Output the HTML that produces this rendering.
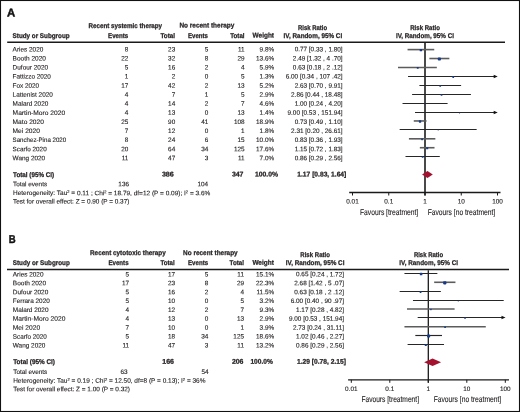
<!DOCTYPE html>
<html><head><meta charset="utf-8"><style>
html,body{margin:0;padding:0;background:#fff;width:520px;height:412px;overflow:hidden}
svg{display:block;will-change:transform}
text{font-family:"Liberation Sans",sans-serif;text-rendering:geometricPrecision}
</style></head><body>
<svg width="520" height="412" viewBox="0 0 520 412">
<rect x="0" y="0" width="520" height="412" fill="#fff"/>
<text x="7.1" y="16.4" transform="rotate(0.03 7.1 16.4)" font-size="11.4" font-weight="bold" stroke="#111" stroke-width="0.45" fill="#111" textLength="8.2" lengthAdjust="spacingAndGlyphs">A</text>
<text x="88.50" y="27.50" transform="rotate(0.03 88.50 27.50)" font-size="6.9" font-weight="bold" stroke="#231f20" stroke-width="0.25" textLength="73.60" lengthAdjust="spacingAndGlyphs" fill="#231f20">Recent systemic therapy</text>
<text x="179.40" y="27.50" transform="rotate(0.03 179.40 27.50)" font-size="6.9" font-weight="bold" stroke="#231f20" stroke-width="0.25" textLength="54.90" lengthAdjust="spacingAndGlyphs" fill="#231f20">No recent therapy</text>
<text x="298.00" y="29.70" transform="rotate(0.03 298.00 29.70)" font-size="6.9" font-weight="bold" stroke="#231f20" stroke-width="0.25" textLength="29.10" lengthAdjust="spacingAndGlyphs" fill="#231f20">Risk Ratio</text>
<text x="410.20" y="29.70" transform="rotate(0.03 410.20 29.70)" font-size="6.9" font-weight="bold" stroke="#231f20" stroke-width="0.25" textLength="29.70" lengthAdjust="spacingAndGlyphs" fill="#231f20">Risk Ratio</text>
<text x="12.60" y="37.60" transform="rotate(0.03 12.60 37.60)" font-size="6.9" font-weight="bold" stroke="#231f20" stroke-width="0.25" textLength="57.00" lengthAdjust="spacingAndGlyphs" fill="#231f20">Study or Subgroup</text>
<text x="108.00" y="37.60" transform="rotate(0.03 108.00 37.60)" font-size="6.9" font-weight="bold" stroke="#231f20" stroke-width="0.25" textLength="20.30" lengthAdjust="spacingAndGlyphs" fill="#231f20">Events</text>
<text x="160.50" y="37.60" transform="rotate(0.03 160.50 37.60)" font-size="6.9" font-weight="bold" stroke="#231f20" stroke-width="0.25" textLength="14.50" lengthAdjust="spacingAndGlyphs" fill="#231f20">Total</text>
<text x="188.00" y="37.60" transform="rotate(0.03 188.00 37.60)" font-size="6.9" font-weight="bold" stroke="#231f20" stroke-width="0.25" textLength="20.00" lengthAdjust="spacingAndGlyphs" fill="#231f20">Events</text>
<text x="230.20" y="37.60" transform="rotate(0.03 230.20 37.60)" font-size="6.9" font-weight="bold" stroke="#231f20" stroke-width="0.25" textLength="14.40" lengthAdjust="spacingAndGlyphs" fill="#231f20">Total</text>
<text x="252.60" y="37.60" transform="rotate(0.03 252.60 37.60)" font-size="6.9" font-weight="bold" stroke="#231f20" stroke-width="0.25" textLength="21.40" lengthAdjust="spacingAndGlyphs" fill="#231f20">Weight</text>
<text x="283.60" y="37.60" transform="rotate(0.03 283.60 37.60)" font-size="6.9" font-weight="bold" stroke="#231f20" stroke-width="0.25" textLength="58.60" lengthAdjust="spacingAndGlyphs" fill="#231f20">IV, Random, 95% CI</text>
<text x="395.90" y="37.60" transform="rotate(0.03 395.90 37.60)" font-size="6.9" font-weight="bold" stroke="#231f20" stroke-width="0.25" textLength="58.10" lengthAdjust="spacingAndGlyphs" fill="#231f20">IV, Random, 95% CI</text>
<line x1="7.20" y1="42.30" x2="505.00" y2="42.30" stroke="#1a1a1a" stroke-width="1.4"/>
<text x="12.60" y="51.40" transform="rotate(0.03 12.60 51.40)" font-size="6.4" stroke="#231f20" stroke-width="0.12" textLength="30.70" lengthAdjust="spacingAndGlyphs" fill="#231f20">Aries 2020</text>
<text x="128.40" y="51.40" transform="rotate(0.03 128.40 51.40)" font-size="6.4" text-anchor="end" stroke="#231f20" stroke-width="0.12" fill="#231f20">8</text>
<text x="175.20" y="51.40" transform="rotate(0.03 175.20 51.40)" font-size="6.4" text-anchor="end" stroke="#231f20" stroke-width="0.12" fill="#231f20">23</text>
<text x="208.30" y="51.40" transform="rotate(0.03 208.30 51.40)" font-size="6.4" text-anchor="end" stroke="#231f20" stroke-width="0.12" fill="#231f20">5</text>
<text x="244.60" y="51.40" transform="rotate(0.03 244.60 51.40)" font-size="6.4" text-anchor="end" stroke="#231f20" stroke-width="0.12" fill="#231f20">11</text>
<text x="274.20" y="51.40" transform="rotate(0.03 274.20 51.40)" font-size="6.4" text-anchor="end" stroke="#231f20" stroke-width="0.12" fill="#231f20">9.8%</text>
<text x="342.60" y="51.40" transform="rotate(0.03 342.60 51.40)" font-size="6.4" text-anchor="end" stroke="#231f20" stroke-width="0.12" fill="#231f20">0.77 [0.33 , 1.80]</text>
<text x="12.60" y="60.47" transform="rotate(0.03 12.60 60.47)" font-size="6.4" stroke="#231f20" stroke-width="0.12" textLength="33.30" lengthAdjust="spacingAndGlyphs" fill="#231f20">Booth 2020</text>
<text x="128.40" y="60.47" transform="rotate(0.03 128.40 60.47)" font-size="6.4" text-anchor="end" stroke="#231f20" stroke-width="0.12" fill="#231f20">22</text>
<text x="175.20" y="60.47" transform="rotate(0.03 175.20 60.47)" font-size="6.4" text-anchor="end" stroke="#231f20" stroke-width="0.12" fill="#231f20">32</text>
<text x="208.30" y="60.47" transform="rotate(0.03 208.30 60.47)" font-size="6.4" text-anchor="end" stroke="#231f20" stroke-width="0.12" fill="#231f20">8</text>
<text x="244.60" y="60.47" transform="rotate(0.03 244.60 60.47)" font-size="6.4" text-anchor="end" stroke="#231f20" stroke-width="0.12" fill="#231f20">29</text>
<text x="274.20" y="60.47" transform="rotate(0.03 274.20 60.47)" font-size="6.4" text-anchor="end" stroke="#231f20" stroke-width="0.12" fill="#231f20">13.6%</text>
<text x="342.60" y="60.47" transform="rotate(0.03 342.60 60.47)" font-size="6.4" text-anchor="end" stroke="#231f20" stroke-width="0.12" fill="#231f20">2.49 [1.32 , 4 .70]</text>
<text x="12.60" y="69.54" transform="rotate(0.03 12.60 69.54)" font-size="6.4" stroke="#231f20" stroke-width="0.12" textLength="35.50" lengthAdjust="spacingAndGlyphs" fill="#231f20">Dufour 2020</text>
<text x="128.40" y="69.54" transform="rotate(0.03 128.40 69.54)" font-size="6.4" text-anchor="end" stroke="#231f20" stroke-width="0.12" fill="#231f20">5</text>
<text x="175.20" y="69.54" transform="rotate(0.03 175.20 69.54)" font-size="6.4" text-anchor="end" stroke="#231f20" stroke-width="0.12" fill="#231f20">16</text>
<text x="208.30" y="69.54" transform="rotate(0.03 208.30 69.54)" font-size="6.4" text-anchor="end" stroke="#231f20" stroke-width="0.12" fill="#231f20">2</text>
<text x="244.60" y="69.54" transform="rotate(0.03 244.60 69.54)" font-size="6.4" text-anchor="end" stroke="#231f20" stroke-width="0.12" fill="#231f20">4</text>
<text x="274.20" y="69.54" transform="rotate(0.03 274.20 69.54)" font-size="6.4" text-anchor="end" stroke="#231f20" stroke-width="0.12" fill="#231f20">5.9%</text>
<text x="342.60" y="69.54" transform="rotate(0.03 342.60 69.54)" font-size="6.4" text-anchor="end" stroke="#231f20" stroke-width="0.12" fill="#231f20">0.63 [0.18 , 2 .12]</text>
<text x="12.60" y="78.61" transform="rotate(0.03 12.60 78.61)" font-size="6.4" stroke="#231f20" stroke-width="0.12" textLength="38.30" lengthAdjust="spacingAndGlyphs" fill="#231f20">Fattizzo 2020</text>
<text x="128.40" y="78.61" transform="rotate(0.03 128.40 78.61)" font-size="6.4" text-anchor="end" stroke="#231f20" stroke-width="0.12" fill="#231f20">1</text>
<text x="175.20" y="78.61" transform="rotate(0.03 175.20 78.61)" font-size="6.4" text-anchor="end" stroke="#231f20" stroke-width="0.12" fill="#231f20">2</text>
<text x="208.30" y="78.61" transform="rotate(0.03 208.30 78.61)" font-size="6.4" text-anchor="end" stroke="#231f20" stroke-width="0.12" fill="#231f20">0</text>
<text x="244.60" y="78.61" transform="rotate(0.03 244.60 78.61)" font-size="6.4" text-anchor="end" stroke="#231f20" stroke-width="0.12" fill="#231f20">5</text>
<text x="274.20" y="78.61" transform="rotate(0.03 274.20 78.61)" font-size="6.4" text-anchor="end" stroke="#231f20" stroke-width="0.12" fill="#231f20">1.3%</text>
<text x="342.60" y="78.61" transform="rotate(0.03 342.60 78.61)" font-size="6.4" text-anchor="end" stroke="#231f20" stroke-width="0.12" fill="#231f20">6.00 [0.34 , 107 .42]</text>
<text x="12.60" y="87.68" transform="rotate(0.03 12.60 87.68)" font-size="6.4" stroke="#231f20" stroke-width="0.12" textLength="26.55" lengthAdjust="spacingAndGlyphs" fill="#231f20">Fox 2020</text>
<text x="128.40" y="87.68" transform="rotate(0.03 128.40 87.68)" font-size="6.4" text-anchor="end" stroke="#231f20" stroke-width="0.12" fill="#231f20">17</text>
<text x="175.20" y="87.68" transform="rotate(0.03 175.20 87.68)" font-size="6.4" text-anchor="end" stroke="#231f20" stroke-width="0.12" fill="#231f20">42</text>
<text x="208.30" y="87.68" transform="rotate(0.03 208.30 87.68)" font-size="6.4" text-anchor="end" stroke="#231f20" stroke-width="0.12" fill="#231f20">2</text>
<text x="244.60" y="87.68" transform="rotate(0.03 244.60 87.68)" font-size="6.4" text-anchor="end" stroke="#231f20" stroke-width="0.12" fill="#231f20">13</text>
<text x="274.20" y="87.68" transform="rotate(0.03 274.20 87.68)" font-size="6.4" text-anchor="end" stroke="#231f20" stroke-width="0.12" fill="#231f20">5.2%</text>
<text x="342.60" y="87.68" transform="rotate(0.03 342.60 87.68)" font-size="6.4" text-anchor="end" stroke="#231f20" stroke-width="0.12" fill="#231f20">2.63 [0.70 , 9.91]</text>
<text x="12.60" y="96.75" transform="rotate(0.03 12.60 96.75)" font-size="6.4" stroke="#231f20" stroke-width="0.12" textLength="40.30" lengthAdjust="spacingAndGlyphs" fill="#231f20">Lattenist 2020</text>
<text x="128.40" y="96.75" transform="rotate(0.03 128.40 96.75)" font-size="6.4" text-anchor="end" stroke="#231f20" stroke-width="0.12" fill="#231f20">4</text>
<text x="175.20" y="96.75" transform="rotate(0.03 175.20 96.75)" font-size="6.4" text-anchor="end" stroke="#231f20" stroke-width="0.12" fill="#231f20">7</text>
<text x="208.30" y="96.75" transform="rotate(0.03 208.30 96.75)" font-size="6.4" text-anchor="end" stroke="#231f20" stroke-width="0.12" fill="#231f20">1</text>
<text x="244.60" y="96.75" transform="rotate(0.03 244.60 96.75)" font-size="6.4" text-anchor="end" stroke="#231f20" stroke-width="0.12" fill="#231f20">5</text>
<text x="274.20" y="96.75" transform="rotate(0.03 274.20 96.75)" font-size="6.4" text-anchor="end" stroke="#231f20" stroke-width="0.12" fill="#231f20">2.9%</text>
<text x="342.60" y="96.75" transform="rotate(0.03 342.60 96.75)" font-size="6.4" text-anchor="end" stroke="#231f20" stroke-width="0.12" fill="#231f20">2.86 [0.44 , 18.48]</text>
<text x="12.60" y="105.82" transform="rotate(0.03 12.60 105.82)" font-size="6.4" stroke="#231f20" stroke-width="0.12" textLength="35.70" lengthAdjust="spacingAndGlyphs" fill="#231f20">Malard 2020</text>
<text x="128.40" y="105.82" transform="rotate(0.03 128.40 105.82)" font-size="6.4" text-anchor="end" stroke="#231f20" stroke-width="0.12" fill="#231f20">4</text>
<text x="175.20" y="105.82" transform="rotate(0.03 175.20 105.82)" font-size="6.4" text-anchor="end" stroke="#231f20" stroke-width="0.12" fill="#231f20">14</text>
<text x="208.30" y="105.82" transform="rotate(0.03 208.30 105.82)" font-size="6.4" text-anchor="end" stroke="#231f20" stroke-width="0.12" fill="#231f20">2</text>
<text x="244.60" y="105.82" transform="rotate(0.03 244.60 105.82)" font-size="6.4" text-anchor="end" stroke="#231f20" stroke-width="0.12" fill="#231f20">7</text>
<text x="274.20" y="105.82" transform="rotate(0.03 274.20 105.82)" font-size="6.4" text-anchor="end" stroke="#231f20" stroke-width="0.12" fill="#231f20">4.6%</text>
<text x="342.60" y="105.82" transform="rotate(0.03 342.60 105.82)" font-size="6.4" text-anchor="end" stroke="#231f20" stroke-width="0.12" fill="#231f20">1.00 [0.24 , 4.20]</text>
<text x="12.60" y="114.89" transform="rotate(0.03 12.60 114.89)" font-size="6.4" stroke="#231f20" stroke-width="0.12" textLength="52.55" lengthAdjust="spacingAndGlyphs" fill="#231f20">Martin-Moro 2020</text>
<text x="128.40" y="114.89" transform="rotate(0.03 128.40 114.89)" font-size="6.4" text-anchor="end" stroke="#231f20" stroke-width="0.12" fill="#231f20">4</text>
<text x="175.20" y="114.89" transform="rotate(0.03 175.20 114.89)" font-size="6.4" text-anchor="end" stroke="#231f20" stroke-width="0.12" fill="#231f20">13</text>
<text x="208.30" y="114.89" transform="rotate(0.03 208.30 114.89)" font-size="6.4" text-anchor="end" stroke="#231f20" stroke-width="0.12" fill="#231f20">0</text>
<text x="244.60" y="114.89" transform="rotate(0.03 244.60 114.89)" font-size="6.4" text-anchor="end" stroke="#231f20" stroke-width="0.12" fill="#231f20">13</text>
<text x="274.20" y="114.89" transform="rotate(0.03 274.20 114.89)" font-size="6.4" text-anchor="end" stroke="#231f20" stroke-width="0.12" fill="#231f20">1.4%</text>
<text x="342.60" y="114.89" transform="rotate(0.03 342.60 114.89)" font-size="6.4" text-anchor="end" stroke="#231f20" stroke-width="0.12" fill="#231f20">9.00 [0.53 , 151.94]</text>
<text x="12.60" y="123.96" transform="rotate(0.03 12.60 123.96)" font-size="6.4" stroke="#231f20" stroke-width="0.12" textLength="31.30" lengthAdjust="spacingAndGlyphs" fill="#231f20">Mato 2020</text>
<text x="128.40" y="123.96" transform="rotate(0.03 128.40 123.96)" font-size="6.4" text-anchor="end" stroke="#231f20" stroke-width="0.12" fill="#231f20">25</text>
<text x="175.20" y="123.96" transform="rotate(0.03 175.20 123.96)" font-size="6.4" text-anchor="end" stroke="#231f20" stroke-width="0.12" fill="#231f20">90</text>
<text x="208.30" y="123.96" transform="rotate(0.03 208.30 123.96)" font-size="6.4" text-anchor="end" stroke="#231f20" stroke-width="0.12" fill="#231f20">41</text>
<text x="244.60" y="123.96" transform="rotate(0.03 244.60 123.96)" font-size="6.4" text-anchor="end" stroke="#231f20" stroke-width="0.12" fill="#231f20">108</text>
<text x="274.20" y="123.96" transform="rotate(0.03 274.20 123.96)" font-size="6.4" text-anchor="end" stroke="#231f20" stroke-width="0.12" fill="#231f20">18.9%</text>
<text x="342.60" y="123.96" transform="rotate(0.03 342.60 123.96)" font-size="6.4" text-anchor="end" stroke="#231f20" stroke-width="0.12" fill="#231f20">0.73 [0.49 , 1.10]</text>
<text x="12.60" y="133.03" transform="rotate(0.03 12.60 133.03)" font-size="6.4" stroke="#231f20" stroke-width="0.12" textLength="27.30" lengthAdjust="spacingAndGlyphs" fill="#231f20">Mei 2020</text>
<text x="128.40" y="133.03" transform="rotate(0.03 128.40 133.03)" font-size="6.4" text-anchor="end" stroke="#231f20" stroke-width="0.12" fill="#231f20">7</text>
<text x="175.20" y="133.03" transform="rotate(0.03 175.20 133.03)" font-size="6.4" text-anchor="end" stroke="#231f20" stroke-width="0.12" fill="#231f20">12</text>
<text x="208.30" y="133.03" transform="rotate(0.03 208.30 133.03)" font-size="6.4" text-anchor="end" stroke="#231f20" stroke-width="0.12" fill="#231f20">0</text>
<text x="244.60" y="133.03" transform="rotate(0.03 244.60 133.03)" font-size="6.4" text-anchor="end" stroke="#231f20" stroke-width="0.12" fill="#231f20">1</text>
<text x="274.20" y="133.03" transform="rotate(0.03 274.20 133.03)" font-size="6.4" text-anchor="end" stroke="#231f20" stroke-width="0.12" fill="#231f20">1.8%</text>
<text x="342.60" y="133.03" transform="rotate(0.03 342.60 133.03)" font-size="6.4" text-anchor="end" stroke="#231f20" stroke-width="0.12" fill="#231f20">2.31 [0.20 , 26.61]</text>
<text x="12.60" y="142.10" transform="rotate(0.03 12.60 142.10)" font-size="6.4" stroke="#231f20" stroke-width="0.12" textLength="53.55" lengthAdjust="spacingAndGlyphs" fill="#231f20">Sanchez-Pina 2020</text>
<text x="128.40" y="142.10" transform="rotate(0.03 128.40 142.10)" font-size="6.4" text-anchor="end" stroke="#231f20" stroke-width="0.12" fill="#231f20">8</text>
<text x="175.20" y="142.10" transform="rotate(0.03 175.20 142.10)" font-size="6.4" text-anchor="end" stroke="#231f20" stroke-width="0.12" fill="#231f20">24</text>
<text x="208.30" y="142.10" transform="rotate(0.03 208.30 142.10)" font-size="6.4" text-anchor="end" stroke="#231f20" stroke-width="0.12" fill="#231f20">6</text>
<text x="244.60" y="142.10" transform="rotate(0.03 244.60 142.10)" font-size="6.4" text-anchor="end" stroke="#231f20" stroke-width="0.12" fill="#231f20">15</text>
<text x="274.20" y="142.10" transform="rotate(0.03 274.20 142.10)" font-size="6.4" text-anchor="end" stroke="#231f20" stroke-width="0.12" fill="#231f20">10.0%</text>
<text x="342.60" y="142.10" transform="rotate(0.03 342.60 142.10)" font-size="6.4" text-anchor="end" stroke="#231f20" stroke-width="0.12" fill="#231f20">0.83 [0.36 , 1.93]</text>
<text x="12.60" y="151.17" transform="rotate(0.03 12.60 151.17)" font-size="6.4" stroke="#231f20" stroke-width="0.12" textLength="34.05" lengthAdjust="spacingAndGlyphs" fill="#231f20">Scarfo 2020</text>
<text x="128.40" y="151.17" transform="rotate(0.03 128.40 151.17)" font-size="6.4" text-anchor="end" stroke="#231f20" stroke-width="0.12" fill="#231f20">20</text>
<text x="175.20" y="151.17" transform="rotate(0.03 175.20 151.17)" font-size="6.4" text-anchor="end" stroke="#231f20" stroke-width="0.12" fill="#231f20">64</text>
<text x="208.30" y="151.17" transform="rotate(0.03 208.30 151.17)" font-size="6.4" text-anchor="end" stroke="#231f20" stroke-width="0.12" fill="#231f20">34</text>
<text x="244.60" y="151.17" transform="rotate(0.03 244.60 151.17)" font-size="6.4" text-anchor="end" stroke="#231f20" stroke-width="0.12" fill="#231f20">125</text>
<text x="274.20" y="151.17" transform="rotate(0.03 274.20 151.17)" font-size="6.4" text-anchor="end" stroke="#231f20" stroke-width="0.12" fill="#231f20">17.6%</text>
<text x="342.60" y="151.17" transform="rotate(0.03 342.60 151.17)" font-size="6.4" text-anchor="end" stroke="#231f20" stroke-width="0.12" fill="#231f20">1.15 [0.72 , 1.83]</text>
<text x="12.60" y="160.24" transform="rotate(0.03 12.60 160.24)" font-size="6.4" stroke="#231f20" stroke-width="0.12" textLength="32.55" lengthAdjust="spacingAndGlyphs" fill="#231f20">Wang 2020</text>
<text x="128.40" y="160.24" transform="rotate(0.03 128.40 160.24)" font-size="6.4" text-anchor="end" stroke="#231f20" stroke-width="0.12" fill="#231f20">11</text>
<text x="175.20" y="160.24" transform="rotate(0.03 175.20 160.24)" font-size="6.4" text-anchor="end" stroke="#231f20" stroke-width="0.12" fill="#231f20">47</text>
<text x="208.30" y="160.24" transform="rotate(0.03 208.30 160.24)" font-size="6.4" text-anchor="end" stroke="#231f20" stroke-width="0.12" fill="#231f20">3</text>
<text x="244.60" y="160.24" transform="rotate(0.03 244.60 160.24)" font-size="6.4" text-anchor="end" stroke="#231f20" stroke-width="0.12" fill="#231f20">11</text>
<text x="274.20" y="160.24" transform="rotate(0.03 274.20 160.24)" font-size="6.4" text-anchor="end" stroke="#231f20" stroke-width="0.12" fill="#231f20">7.0%</text>
<text x="342.60" y="160.24" transform="rotate(0.03 342.60 160.24)" font-size="6.4" text-anchor="end" stroke="#231f20" stroke-width="0.12" fill="#231f20">0.86 [0.29 , 2.56]</text>
<text x="13.00" y="176.50" transform="rotate(0.03 13.00 176.50)" font-size="6.9" font-weight="bold" stroke="#231f20" stroke-width="0.25" textLength="41.20" lengthAdjust="spacingAndGlyphs" fill="#231f20">Total (95% CI)</text>
<text x="161.90" y="176.50" transform="rotate(0.03 161.90 176.50)" font-size="6.9" font-weight="bold" stroke="#231f20" stroke-width="0.25" textLength="11.90" lengthAdjust="spacingAndGlyphs" fill="#231f20">386</text>
<text x="231.90" y="176.50" transform="rotate(0.03 231.90 176.50)" font-size="6.9" font-weight="bold" stroke="#231f20" stroke-width="0.25" textLength="11.60" lengthAdjust="spacingAndGlyphs" fill="#231f20">347</text>
<text x="254.90" y="176.50" transform="rotate(0.03 254.90 176.50)" font-size="6.9" font-weight="bold" stroke="#231f20" stroke-width="0.25" textLength="23.10" lengthAdjust="spacingAndGlyphs" fill="#231f20">100.0%</text>
<text x="297.30" y="176.50" transform="rotate(0.03 297.30 176.50)" font-size="6.9" font-weight="bold" stroke="#231f20" stroke-width="0.25" textLength="49.00" lengthAdjust="spacingAndGlyphs" fill="#231f20">1.17 [0.83, 1.64]</text>
<text x="13.00" y="186.20" transform="rotate(0.03 13.00 186.20)" font-size="6.4" stroke="#231f20" stroke-width="0.12" fill="#231f20">Total events</text>
<text x="129.00" y="186.20" transform="rotate(0.03 129.00 186.20)" font-size="6.4" text-anchor="end" stroke="#231f20" stroke-width="0.12" fill="#231f20">136</text>
<text x="208.20" y="186.20" transform="rotate(0.03 208.20 186.20)" font-size="6.4" text-anchor="end" stroke="#231f20" stroke-width="0.12" fill="#231f20">104</text>
<text x="13.00" y="195.10" transform="rotate(0.03 13.00 195.10)" font-size="6.4" stroke="#231f20" stroke-width="0.12" textLength="197.30" lengthAdjust="spacingAndGlyphs" fill="#231f20">Heterogeneity: Tau<tspan font-size="4" dy="-2">2</tspan><tspan dy="2"> = 0.11 ; Chi</tspan><tspan font-size="4" dy="-2">2</tspan><tspan dy="2"> = 18.79, df=12 (P = 0.09); I</tspan><tspan font-size="4" dy="-2">2</tspan><tspan dy="2"> = 3.6%</tspan></text>
<text x="13.00" y="203.50" transform="rotate(0.03 13.00 203.50)" font-size="6.4" stroke="#231f20" stroke-width="0.12" textLength="116.40" lengthAdjust="spacingAndGlyphs" fill="#231f20">Test for overall effect: Z = 0.90 (P = 0.37)</text>
<line x1="425.00" y1="43.10" x2="425.00" y2="195.50" stroke="#404040" stroke-width="1.9"/>
<line x1="349.20" y1="192.50" x2="500.50" y2="192.50" stroke="#1a1a1a" stroke-width="1.3"/>
<line x1="352.50" y1="192.50" x2="352.50" y2="195.50" stroke="#1a1a1a" stroke-width="1.0"/>
<text x="352.50" y="203.40" transform="rotate(0.03 352.50 203.40)" font-size="6.4" text-anchor="middle" stroke="#231f20" stroke-width="0.12" fill="#231f20">0.01</text>
<line x1="388.75" y1="192.50" x2="388.75" y2="195.50" stroke="#1a1a1a" stroke-width="1.0"/>
<text x="388.75" y="203.40" transform="rotate(0.03 388.75 203.40)" font-size="6.4" text-anchor="middle" stroke="#231f20" stroke-width="0.12" fill="#231f20">0.1</text>
<line x1="425.00" y1="192.50" x2="425.00" y2="195.50" stroke="#1a1a1a" stroke-width="1.0"/>
<text x="425.00" y="203.40" transform="rotate(0.03 425.00 203.40)" font-size="6.4" text-anchor="middle" stroke="#231f20" stroke-width="0.12" fill="#231f20">1</text>
<line x1="461.25" y1="192.50" x2="461.25" y2="195.50" stroke="#1a1a1a" stroke-width="1.0"/>
<text x="461.25" y="203.40" transform="rotate(0.03 461.25 203.40)" font-size="6.4" text-anchor="middle" stroke="#231f20" stroke-width="0.12" fill="#231f20">10</text>
<line x1="497.50" y1="192.50" x2="497.50" y2="195.50" stroke="#1a1a1a" stroke-width="1.0"/>
<text x="497.50" y="203.40" transform="rotate(0.03 497.50 203.40)" font-size="6.4" text-anchor="middle" stroke="#231f20" stroke-width="0.12" fill="#231f20">100</text>
<text x="360.00" y="215.20" transform="rotate(0.03 360.00 215.20)" font-size="8.4" stroke="#231f20" stroke-width="0.12" textLength="58.20" lengthAdjust="spacingAndGlyphs" fill="#231f20">Favours [treatment]</text>
<text x="427.70" y="215.20" transform="rotate(0.03 427.70 215.20)" font-size="8.4" stroke="#231f20" stroke-width="0.12" textLength="67.50" lengthAdjust="spacingAndGlyphs" fill="#231f20">Favours [no treatment]</text>
<line x1="407.55" y1="49.60" x2="434.25" y2="49.60" stroke="#5c5c5c" stroke-width="1.6"/>
<rect x="419.69" y="48.90" width="2.40" height="2.40" rx="0.60" fill="#163a86"/>
<line x1="429.37" y1="58.52" x2="449.36" y2="58.52" stroke="#5c5c5c" stroke-width="1.6"/>
<rect x="437.81" y="57.47" width="3.10" height="3.10" rx="0.78" fill="#163a86"/>
<line x1="398.00" y1="67.44" x2="436.83" y2="67.44" stroke="#5c5c5c" stroke-width="1.6"/>
<rect x="416.83" y="67.04" width="1.80" height="1.80" rx="0.45" fill="#163a86"/>
<line x1="408.02" y1="76.50" x2="494.50" y2="76.50" stroke="#262626" stroke-width="1.15"/>
<polygon points="493.70,74.80 497.70,76.50 493.70,78.20" fill="#111"/>
<rect x="452.31" y="76.10" width="1.80" height="1.80" rx="0.45" fill="#163a86"/>
<line x1="419.38" y1="85.50" x2="461.11" y2="85.50" stroke="#262626" stroke-width="1.15"/>
<rect x="439.37" y="85.15" width="1.70" height="1.70" rx="0.42" fill="#163a86"/>
<line x1="412.08" y1="94.50" x2="470.92" y2="94.50" stroke="#262626" stroke-width="1.15"/>
<rect x="440.69" y="94.15" width="1.70" height="1.70" rx="0.42" fill="#163a86"/>
<line x1="402.53" y1="103.50" x2="447.59" y2="103.50" stroke="#262626" stroke-width="1.15"/>
<rect x="424.40" y="103.40" width="1.20" height="1.20" rx="0.30" fill="#163a86"/>
<line x1="415.01" y1="112.50" x2="494.50" y2="112.50" stroke="#262626" stroke-width="1.15"/>
<polygon points="493.70,110.80 497.70,112.50 493.70,114.20" fill="#111"/>
<rect x="459.09" y="112.50" width="1.00" height="1.00" rx="0.25" fill="#163a86"/>
<line x1="413.77" y1="120.96" x2="426.50" y2="120.96" stroke="#5c5c5c" stroke-width="1.6"/>
<rect x="418.85" y="120.26" width="2.40" height="2.40" rx="0.60" fill="#163a86"/>
<line x1="399.66" y1="129.50" x2="476.66" y2="129.50" stroke="#262626" stroke-width="1.15"/>
<rect x="437.68" y="129.50" width="1.00" height="1.00" rx="0.25" fill="#163a86"/>
<line x1="408.92" y1="138.80" x2="435.35" y2="138.80" stroke="#5c5c5c" stroke-width="1.6"/>
<rect x="421.17" y="138.40" width="1.80" height="1.80" rx="0.45" fill="#163a86"/>
<line x1="419.83" y1="147.72" x2="434.51" y2="147.72" stroke="#5c5c5c" stroke-width="1.6"/>
<rect x="426.15" y="147.17" width="2.10" height="2.10" rx="0.53" fill="#163a86"/>
<line x1="405.51" y1="156.50" x2="439.80" y2="156.50" stroke="#262626" stroke-width="1.15"/>
<rect x="421.78" y="156.15" width="1.70" height="1.70" rx="0.42" fill="#163a86"/>
<polygon points="422.07,174.50 427.47,170.90 432.79,174.50 427.47,178.10" fill="#a3112e"/>
<text x="8.7" y="242.5" transform="rotate(0.03 8.7 242.5)" font-size="11.4" font-weight="bold" stroke="#111" stroke-width="0.45" fill="#111" textLength="6.9" lengthAdjust="spacingAndGlyphs">B</text>
<text x="90.00" y="254.70" transform="rotate(0.03 90.00 254.70)" font-size="6.9" font-weight="bold" stroke="#231f20" stroke-width="0.25" textLength="75.80" lengthAdjust="spacingAndGlyphs" fill="#231f20">Recent cytotoxic therapy</text>
<text x="183.10" y="254.70" transform="rotate(0.03 183.10 254.70)" font-size="6.9" font-weight="bold" stroke="#231f20" stroke-width="0.25" textLength="54.60" lengthAdjust="spacingAndGlyphs" fill="#231f20">No recent therapy</text>
<text x="300.30" y="256.80" transform="rotate(0.03 300.30 256.80)" font-size="6.9" font-weight="bold" stroke="#231f20" stroke-width="0.25" textLength="29.60" lengthAdjust="spacingAndGlyphs" fill="#231f20">Risk Ratio</text>
<text x="413.90" y="256.80" transform="rotate(0.03 413.90 256.80)" font-size="6.9" font-weight="bold" stroke="#231f20" stroke-width="0.25" textLength="29.20" lengthAdjust="spacingAndGlyphs" fill="#231f20">Risk Ratio</text>
<text x="12.80" y="264.70" transform="rotate(0.03 12.80 264.70)" font-size="6.9" font-weight="bold" stroke="#231f20" stroke-width="0.25" textLength="57.00" lengthAdjust="spacingAndGlyphs" fill="#231f20">Study or Subgroup</text>
<text x="108.40" y="264.70" transform="rotate(0.03 108.40 264.70)" font-size="6.9" font-weight="bold" stroke="#231f20" stroke-width="0.25" textLength="20.20" lengthAdjust="spacingAndGlyphs" fill="#231f20">Events</text>
<text x="160.50" y="264.70" transform="rotate(0.03 160.50 264.70)" font-size="6.9" font-weight="bold" stroke="#231f20" stroke-width="0.25" textLength="14.10" lengthAdjust="spacingAndGlyphs" fill="#231f20">Total</text>
<text x="188.00" y="264.70" transform="rotate(0.03 188.00 264.70)" font-size="6.9" font-weight="bold" stroke="#231f20" stroke-width="0.25" textLength="20.10" lengthAdjust="spacingAndGlyphs" fill="#231f20">Events</text>
<text x="229.60" y="264.70" transform="rotate(0.03 229.60 264.70)" font-size="6.9" font-weight="bold" stroke="#231f20" stroke-width="0.25" textLength="14.40" lengthAdjust="spacingAndGlyphs" fill="#231f20">Total</text>
<text x="252.40" y="264.70" transform="rotate(0.03 252.40 264.70)" font-size="6.9" font-weight="bold" stroke="#231f20" stroke-width="0.25" textLength="21.40" lengthAdjust="spacingAndGlyphs" fill="#231f20">Weight</text>
<text x="285.80" y="264.70" transform="rotate(0.03 285.80 264.70)" font-size="6.9" font-weight="bold" stroke="#231f20" stroke-width="0.25" textLength="58.60" lengthAdjust="spacingAndGlyphs" fill="#231f20">IV, Random, 95% CI</text>
<text x="399.30" y="264.70" transform="rotate(0.03 399.30 264.70)" font-size="6.9" font-weight="bold" stroke="#231f20" stroke-width="0.25" textLength="58.70" lengthAdjust="spacingAndGlyphs" fill="#231f20">IV, Random, 95% CI</text>
<line x1="7.00" y1="269.50" x2="509.00" y2="269.50" stroke="#1a1a1a" stroke-width="1.4"/>
<text x="12.80" y="276.40" transform="rotate(0.03 12.80 276.40)" font-size="6.4" stroke="#231f20" stroke-width="0.12" textLength="30.70" lengthAdjust="spacingAndGlyphs" fill="#231f20">Aries 2020</text>
<text x="129.10" y="276.40" transform="rotate(0.03 129.10 276.40)" font-size="6.4" text-anchor="end" stroke="#231f20" stroke-width="0.12" fill="#231f20">5</text>
<text x="175.00" y="276.40" transform="rotate(0.03 175.00 276.40)" font-size="6.4" text-anchor="end" stroke="#231f20" stroke-width="0.12" fill="#231f20">17</text>
<text x="208.30" y="276.40" transform="rotate(0.03 208.30 276.40)" font-size="6.4" text-anchor="end" stroke="#231f20" stroke-width="0.12" fill="#231f20">5</text>
<text x="244.00" y="276.40" transform="rotate(0.03 244.00 276.40)" font-size="6.4" text-anchor="end" stroke="#231f20" stroke-width="0.12" fill="#231f20">11</text>
<text x="274.20" y="276.40" transform="rotate(0.03 274.20 276.40)" font-size="6.4" text-anchor="end" stroke="#231f20" stroke-width="0.12" fill="#231f20">15.1%</text>
<text x="344.00" y="276.40" transform="rotate(0.03 344.00 276.40)" font-size="6.4" text-anchor="end" stroke="#231f20" stroke-width="0.12" fill="#231f20">0.65 [0.24 , 1.72]</text>
<text x="12.80" y="285.29" transform="rotate(0.03 12.80 285.29)" font-size="6.4" stroke="#231f20" stroke-width="0.12" textLength="33.30" lengthAdjust="spacingAndGlyphs" fill="#231f20">Booth 2020</text>
<text x="129.10" y="285.29" transform="rotate(0.03 129.10 285.29)" font-size="6.4" text-anchor="end" stroke="#231f20" stroke-width="0.12" fill="#231f20">17</text>
<text x="175.00" y="285.29" transform="rotate(0.03 175.00 285.29)" font-size="6.4" text-anchor="end" stroke="#231f20" stroke-width="0.12" fill="#231f20">23</text>
<text x="208.30" y="285.29" transform="rotate(0.03 208.30 285.29)" font-size="6.4" text-anchor="end" stroke="#231f20" stroke-width="0.12" fill="#231f20">8</text>
<text x="244.00" y="285.29" transform="rotate(0.03 244.00 285.29)" font-size="6.4" text-anchor="end" stroke="#231f20" stroke-width="0.12" fill="#231f20">29</text>
<text x="274.20" y="285.29" transform="rotate(0.03 274.20 285.29)" font-size="6.4" text-anchor="end" stroke="#231f20" stroke-width="0.12" fill="#231f20">22.3%</text>
<text x="344.00" y="285.29" transform="rotate(0.03 344.00 285.29)" font-size="6.4" text-anchor="end" stroke="#231f20" stroke-width="0.12" fill="#231f20">2.68 [1.42 , 5 .07]</text>
<text x="12.80" y="294.18" transform="rotate(0.03 12.80 294.18)" font-size="6.4" stroke="#231f20" stroke-width="0.12" textLength="35.50" lengthAdjust="spacingAndGlyphs" fill="#231f20">Dufour 2020</text>
<text x="129.10" y="294.18" transform="rotate(0.03 129.10 294.18)" font-size="6.4" text-anchor="end" stroke="#231f20" stroke-width="0.12" fill="#231f20">5</text>
<text x="175.00" y="294.18" transform="rotate(0.03 175.00 294.18)" font-size="6.4" text-anchor="end" stroke="#231f20" stroke-width="0.12" fill="#231f20">16</text>
<text x="208.30" y="294.18" transform="rotate(0.03 208.30 294.18)" font-size="6.4" text-anchor="end" stroke="#231f20" stroke-width="0.12" fill="#231f20">2</text>
<text x="244.00" y="294.18" transform="rotate(0.03 244.00 294.18)" font-size="6.4" text-anchor="end" stroke="#231f20" stroke-width="0.12" fill="#231f20">4</text>
<text x="274.20" y="294.18" transform="rotate(0.03 274.20 294.18)" font-size="6.4" text-anchor="end" stroke="#231f20" stroke-width="0.12" fill="#231f20">11.5%</text>
<text x="344.00" y="294.18" transform="rotate(0.03 344.00 294.18)" font-size="6.4" text-anchor="end" stroke="#231f20" stroke-width="0.12" fill="#231f20">0.63 [0.18 , 2 .12]</text>
<text x="12.80" y="303.07" transform="rotate(0.03 12.80 303.07)" font-size="6.4" stroke="#231f20" stroke-width="0.12" textLength="37.00" lengthAdjust="spacingAndGlyphs" fill="#231f20">Ferrara 2020</text>
<text x="129.10" y="303.07" transform="rotate(0.03 129.10 303.07)" font-size="6.4" text-anchor="end" stroke="#231f20" stroke-width="0.12" fill="#231f20">5</text>
<text x="175.00" y="303.07" transform="rotate(0.03 175.00 303.07)" font-size="6.4" text-anchor="end" stroke="#231f20" stroke-width="0.12" fill="#231f20">10</text>
<text x="208.30" y="303.07" transform="rotate(0.03 208.30 303.07)" font-size="6.4" text-anchor="end" stroke="#231f20" stroke-width="0.12" fill="#231f20">0</text>
<text x="244.00" y="303.07" transform="rotate(0.03 244.00 303.07)" font-size="6.4" text-anchor="end" stroke="#231f20" stroke-width="0.12" fill="#231f20">5</text>
<text x="274.20" y="303.07" transform="rotate(0.03 274.20 303.07)" font-size="6.4" text-anchor="end" stroke="#231f20" stroke-width="0.12" fill="#231f20">3.2%</text>
<text x="344.00" y="303.07" transform="rotate(0.03 344.00 303.07)" font-size="6.4" text-anchor="end" stroke="#231f20" stroke-width="0.12" fill="#231f20">6.00 [0.40 , 90 .97]</text>
<text x="12.80" y="311.96" transform="rotate(0.03 12.80 311.96)" font-size="6.4" stroke="#231f20" stroke-width="0.12" textLength="35.70" lengthAdjust="spacingAndGlyphs" fill="#231f20">Malard 2020</text>
<text x="129.10" y="311.96" transform="rotate(0.03 129.10 311.96)" font-size="6.4" text-anchor="end" stroke="#231f20" stroke-width="0.12" fill="#231f20">4</text>
<text x="175.00" y="311.96" transform="rotate(0.03 175.00 311.96)" font-size="6.4" text-anchor="end" stroke="#231f20" stroke-width="0.12" fill="#231f20">12</text>
<text x="208.30" y="311.96" transform="rotate(0.03 208.30 311.96)" font-size="6.4" text-anchor="end" stroke="#231f20" stroke-width="0.12" fill="#231f20">2</text>
<text x="244.00" y="311.96" transform="rotate(0.03 244.00 311.96)" font-size="6.4" text-anchor="end" stroke="#231f20" stroke-width="0.12" fill="#231f20">7</text>
<text x="274.20" y="311.96" transform="rotate(0.03 274.20 311.96)" font-size="6.4" text-anchor="end" stroke="#231f20" stroke-width="0.12" fill="#231f20">9.3%</text>
<text x="344.00" y="311.96" transform="rotate(0.03 344.00 311.96)" font-size="6.4" text-anchor="end" stroke="#231f20" stroke-width="0.12" fill="#231f20">1.17 [0.28 , 4.82]</text>
<text x="12.80" y="320.85" transform="rotate(0.03 12.80 320.85)" font-size="6.4" stroke="#231f20" stroke-width="0.12" textLength="52.55" lengthAdjust="spacingAndGlyphs" fill="#231f20">Martin-Moro 2020</text>
<text x="129.10" y="320.85" transform="rotate(0.03 129.10 320.85)" font-size="6.4" text-anchor="end" stroke="#231f20" stroke-width="0.12" fill="#231f20">4</text>
<text x="175.00" y="320.85" transform="rotate(0.03 175.00 320.85)" font-size="6.4" text-anchor="end" stroke="#231f20" stroke-width="0.12" fill="#231f20">13</text>
<text x="208.30" y="320.85" transform="rotate(0.03 208.30 320.85)" font-size="6.4" text-anchor="end" stroke="#231f20" stroke-width="0.12" fill="#231f20">0</text>
<text x="244.00" y="320.85" transform="rotate(0.03 244.00 320.85)" font-size="6.4" text-anchor="end" stroke="#231f20" stroke-width="0.12" fill="#231f20">13</text>
<text x="274.20" y="320.85" transform="rotate(0.03 274.20 320.85)" font-size="6.4" text-anchor="end" stroke="#231f20" stroke-width="0.12" fill="#231f20">2.9%</text>
<text x="344.00" y="320.85" transform="rotate(0.03 344.00 320.85)" font-size="6.4" text-anchor="end" stroke="#231f20" stroke-width="0.12" fill="#231f20">9.00 [0.53 , 151.94]</text>
<text x="12.80" y="329.74" transform="rotate(0.03 12.80 329.74)" font-size="6.4" stroke="#231f20" stroke-width="0.12" textLength="27.30" lengthAdjust="spacingAndGlyphs" fill="#231f20">Mei 2020</text>
<text x="129.10" y="329.74" transform="rotate(0.03 129.10 329.74)" font-size="6.4" text-anchor="end" stroke="#231f20" stroke-width="0.12" fill="#231f20">7</text>
<text x="175.00" y="329.74" transform="rotate(0.03 175.00 329.74)" font-size="6.4" text-anchor="end" stroke="#231f20" stroke-width="0.12" fill="#231f20">10</text>
<text x="208.30" y="329.74" transform="rotate(0.03 208.30 329.74)" font-size="6.4" text-anchor="end" stroke="#231f20" stroke-width="0.12" fill="#231f20">0</text>
<text x="244.00" y="329.74" transform="rotate(0.03 244.00 329.74)" font-size="6.4" text-anchor="end" stroke="#231f20" stroke-width="0.12" fill="#231f20">1</text>
<text x="274.20" y="329.74" transform="rotate(0.03 274.20 329.74)" font-size="6.4" text-anchor="end" stroke="#231f20" stroke-width="0.12" fill="#231f20">3.9%</text>
<text x="344.00" y="329.74" transform="rotate(0.03 344.00 329.74)" font-size="6.4" text-anchor="end" stroke="#231f20" stroke-width="0.12" fill="#231f20">2.73 [0.24 , 31.11]</text>
<text x="12.80" y="338.63" transform="rotate(0.03 12.80 338.63)" font-size="6.4" stroke="#231f20" stroke-width="0.12" textLength="34.05" lengthAdjust="spacingAndGlyphs" fill="#231f20">Scarfo 2020</text>
<text x="129.10" y="338.63" transform="rotate(0.03 129.10 338.63)" font-size="6.4" text-anchor="end" stroke="#231f20" stroke-width="0.12" fill="#231f20">5</text>
<text x="175.00" y="338.63" transform="rotate(0.03 175.00 338.63)" font-size="6.4" text-anchor="end" stroke="#231f20" stroke-width="0.12" fill="#231f20">18</text>
<text x="208.30" y="338.63" transform="rotate(0.03 208.30 338.63)" font-size="6.4" text-anchor="end" stroke="#231f20" stroke-width="0.12" fill="#231f20">34</text>
<text x="244.00" y="338.63" transform="rotate(0.03 244.00 338.63)" font-size="6.4" text-anchor="end" stroke="#231f20" stroke-width="0.12" fill="#231f20">125</text>
<text x="274.20" y="338.63" transform="rotate(0.03 274.20 338.63)" font-size="6.4" text-anchor="end" stroke="#231f20" stroke-width="0.12" fill="#231f20">18.6%</text>
<text x="344.00" y="338.63" transform="rotate(0.03 344.00 338.63)" font-size="6.4" text-anchor="end" stroke="#231f20" stroke-width="0.12" fill="#231f20">1.02 [0.46 , 2.27]</text>
<text x="12.80" y="347.52" transform="rotate(0.03 12.80 347.52)" font-size="6.4" stroke="#231f20" stroke-width="0.12" textLength="32.55" lengthAdjust="spacingAndGlyphs" fill="#231f20">Wang 2020</text>
<text x="129.10" y="347.52" transform="rotate(0.03 129.10 347.52)" font-size="6.4" text-anchor="end" stroke="#231f20" stroke-width="0.12" fill="#231f20">11</text>
<text x="175.00" y="347.52" transform="rotate(0.03 175.00 347.52)" font-size="6.4" text-anchor="end" stroke="#231f20" stroke-width="0.12" fill="#231f20">47</text>
<text x="208.30" y="347.52" transform="rotate(0.03 208.30 347.52)" font-size="6.4" text-anchor="end" stroke="#231f20" stroke-width="0.12" fill="#231f20">3</text>
<text x="244.00" y="347.52" transform="rotate(0.03 244.00 347.52)" font-size="6.4" text-anchor="end" stroke="#231f20" stroke-width="0.12" fill="#231f20">11</text>
<text x="274.20" y="347.52" transform="rotate(0.03 274.20 347.52)" font-size="6.4" text-anchor="end" stroke="#231f20" stroke-width="0.12" fill="#231f20">13.2%</text>
<text x="344.00" y="347.52" transform="rotate(0.03 344.00 347.52)" font-size="6.4" text-anchor="end" stroke="#231f20" stroke-width="0.12" fill="#231f20">0.86 [0.29 , 2.56]</text>
<text x="13.20" y="363.80" transform="rotate(0.03 13.20 363.80)" font-size="6.9" font-weight="bold" stroke="#231f20" stroke-width="0.25" textLength="41.80" lengthAdjust="spacingAndGlyphs" fill="#231f20">Total (95% CI)</text>
<text x="162.30" y="363.80" transform="rotate(0.03 162.30 363.80)" font-size="6.9" font-weight="bold" stroke="#231f20" stroke-width="0.25" textLength="11.70" lengthAdjust="spacingAndGlyphs" fill="#231f20">166</text>
<text x="231.90" y="363.80" transform="rotate(0.03 231.90 363.80)" font-size="6.9" font-weight="bold" stroke="#231f20" stroke-width="0.25" textLength="11.60" lengthAdjust="spacingAndGlyphs" fill="#231f20">206</text>
<text x="250.40" y="363.80" transform="rotate(0.03 250.40 363.80)" font-size="6.9" font-weight="bold" stroke="#231f20" stroke-width="0.25" textLength="22.40" lengthAdjust="spacingAndGlyphs" fill="#231f20">100.0%</text>
<text x="297.00" y="363.80" transform="rotate(0.03 297.00 363.80)" font-size="6.9" font-weight="bold" stroke="#231f20" stroke-width="0.25" textLength="48.90" lengthAdjust="spacingAndGlyphs" fill="#231f20">1.29 [0.78, 2.15]</text>
<text x="13.20" y="374.10" transform="rotate(0.03 13.20 374.10)" font-size="6.4" stroke="#231f20" stroke-width="0.12" fill="#231f20">Total events</text>
<text x="127.50" y="374.10" transform="rotate(0.03 127.50 374.10)" font-size="6.4" text-anchor="end" stroke="#231f20" stroke-width="0.12" fill="#231f20">63</text>
<text x="208.50" y="374.10" transform="rotate(0.03 208.50 374.10)" font-size="6.4" text-anchor="end" stroke="#231f20" stroke-width="0.12" fill="#231f20">54</text>
<text x="13.20" y="382.70" transform="rotate(0.03 13.20 382.70)" font-size="6.4" stroke="#231f20" stroke-width="0.12" textLength="192.30" lengthAdjust="spacingAndGlyphs" fill="#231f20">Heterogeneity: Tau<tspan font-size="4" dy="-2">2</tspan><tspan dy="2"> = 0.19 ; Chi</tspan><tspan font-size="4" dy="-2">2</tspan><tspan dy="2"> = 12.50, df=8 (P = 0.13); I</tspan><tspan font-size="4" dy="-2">2</tspan><tspan dy="2"> = 36%</tspan></text>
<text x="13.20" y="391.30" transform="rotate(0.03 13.20 391.30)" font-size="6.4" stroke="#231f20" stroke-width="0.12" textLength="116.80" lengthAdjust="spacingAndGlyphs" fill="#231f20">Test for overall effect: Z = 1.00 (P = 0.32)</text>
<line x1="428.30" y1="270.30" x2="428.30" y2="382.80" stroke="#111" stroke-width="1.25"/>
<line x1="348.10" y1="379.80" x2="509.00" y2="379.80" stroke="#1a1a1a" stroke-width="1.3"/>
<line x1="351.30" y1="379.80" x2="351.30" y2="382.80" stroke="#1a1a1a" stroke-width="1.0"/>
<text x="351.30" y="391.00" transform="rotate(0.03 351.30 391.00)" font-size="6.4" text-anchor="middle" stroke="#231f20" stroke-width="0.12" fill="#231f20">0.01</text>
<line x1="389.80" y1="379.80" x2="389.80" y2="382.80" stroke="#1a1a1a" stroke-width="1.0"/>
<text x="389.80" y="391.00" transform="rotate(0.03 389.80 391.00)" font-size="6.4" text-anchor="middle" stroke="#231f20" stroke-width="0.12" fill="#231f20">0.1</text>
<line x1="428.30" y1="379.80" x2="428.30" y2="382.80" stroke="#1a1a1a" stroke-width="1.0"/>
<text x="428.30" y="391.00" transform="rotate(0.03 428.30 391.00)" font-size="6.4" text-anchor="middle" stroke="#231f20" stroke-width="0.12" fill="#231f20">1</text>
<line x1="466.80" y1="379.80" x2="466.80" y2="382.80" stroke="#1a1a1a" stroke-width="1.0"/>
<text x="466.80" y="391.00" transform="rotate(0.03 466.80 391.00)" font-size="6.4" text-anchor="middle" stroke="#231f20" stroke-width="0.12" fill="#231f20">10</text>
<line x1="505.30" y1="379.80" x2="505.30" y2="382.80" stroke="#1a1a1a" stroke-width="1.0"/>
<text x="505.30" y="391.00" transform="rotate(0.03 505.30 391.00)" font-size="6.4" text-anchor="middle" stroke="#231f20" stroke-width="0.12" fill="#231f20">100</text>
<text x="361.40" y="402.30" transform="rotate(0.03 361.40 402.30)" font-size="8.4" stroke="#231f20" stroke-width="0.12" textLength="57.60" lengthAdjust="spacingAndGlyphs" fill="#231f20">Favours [treatment]</text>
<text x="433.70" y="402.30" transform="rotate(0.03 433.70 402.30)" font-size="8.4" stroke="#231f20" stroke-width="0.12" textLength="67.50" lengthAdjust="spacingAndGlyphs" fill="#231f20">Favours [no treatment]</text>
<line x1="404.44" y1="273.50" x2="437.37" y2="273.50" stroke="#262626" stroke-width="1.15"/>
<rect x="419.80" y="272.70" width="2.60" height="2.60" rx="0.65" fill="#163a86"/>
<line x1="434.16" y1="282.29" x2="455.44" y2="282.29" stroke="#5c5c5c" stroke-width="1.6"/>
<rect x="443.13" y="281.14" width="3.30" height="3.30" rx="0.82" fill="#163a86"/>
<line x1="399.63" y1="291.50" x2="440.86" y2="291.50" stroke="#262626" stroke-width="1.15"/>
<rect x="419.62" y="291.05" width="1.90" height="1.90" rx="0.47" fill="#163a86"/>
<line x1="412.98" y1="300.50" x2="503.72" y2="300.50" stroke="#262626" stroke-width="1.15"/>
<rect x="457.76" y="300.50" width="1.00" height="1.00" rx="0.25" fill="#163a86"/>
<line x1="407.02" y1="308.96" x2="454.60" y2="308.96" stroke="#5c5c5c" stroke-width="1.6"/>
<rect x="430.18" y="308.71" width="1.50" height="1.50" rx="0.38" fill="#163a86"/>
<line x1="417.68" y1="317.50" x2="502.30" y2="317.50" stroke="#262626" stroke-width="1.15"/>
<polygon points="501.50,315.80 505.50,317.50 501.50,319.20" fill="#111"/>
<rect x="464.19" y="317.15" width="1.70" height="1.70" rx="0.42" fill="#163a86"/>
<line x1="404.44" y1="326.74" x2="485.78" y2="326.74" stroke="#5c5c5c" stroke-width="1.6"/>
<rect x="444.24" y="326.39" width="1.70" height="1.70" rx="0.42" fill="#163a86"/>
<line x1="415.32" y1="335.50" x2="442.01" y2="335.50" stroke="#262626" stroke-width="1.15"/>
<rect x="427.08" y="334.45" width="3.10" height="3.10" rx="0.78" fill="#163a86"/>
<line x1="407.60" y1="344.50" x2="444.02" y2="344.50" stroke="#262626" stroke-width="1.15"/>
<rect x="424.73" y="343.95" width="2.10" height="2.10" rx="0.53" fill="#163a86"/>
<polygon points="424.15,362.20 432.56,358.50 441.10,362.20 432.56,365.90" fill="#a3112e"/>
<rect x="0.5" y="0.5" width="519" height="411" fill="none" stroke="#111" stroke-width="1.1"/>
</svg></body></html>
